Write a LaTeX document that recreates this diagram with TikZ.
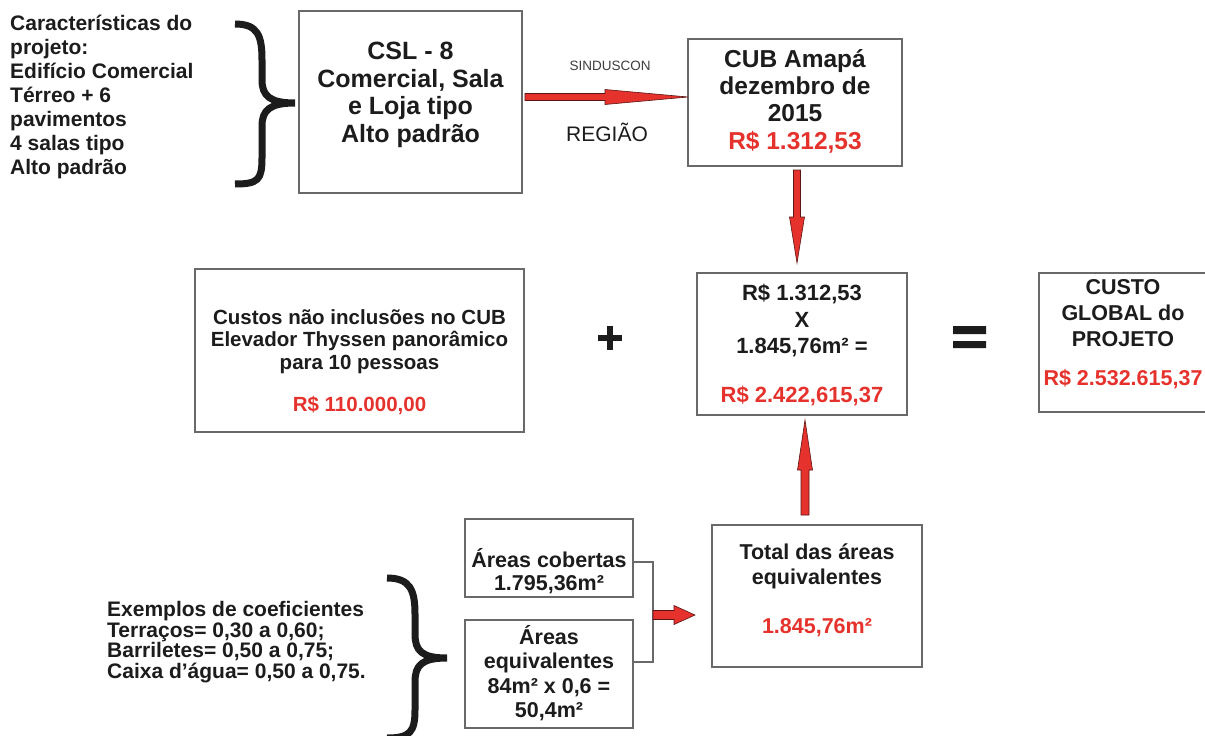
\documentclass[tikz,border=0pt]{standalone}
\usepackage{fontspec}
\setmainfont{Liberation Sans}
\usetikzlibrary{calc}
\definecolor{myred}{RGB}{230,50,44}
\definecolor{boxgray}{RGB}{105,105,105}
\definecolor{ink}{RGB}{28,28,28}
\definecolor{arrowline}{RGB}{90,20,20}
\begin{document}
\begin{tikzpicture}[x=1pt,y=-1pt,
  box/.style={draw=boxgray, line width=1.3pt, inner sep=0pt, outer sep=0pt},
  txt/.style={inner sep=0pt, align=center, text=ink},
  bf/.style 2 args={font=\fontsize{#1}{#2}\selectfont\bfseries},
  blk/.style={fill=myred, draw=arrowline, line width=0.6pt, line join=miter},
  conn/.style={draw=boxgray, line width=1.1pt},
  brc/.style={draw=ink, line width=7pt, line cap=butt}]
\useasboundingbox (0,0) rectangle (1205,736);
\fill[white] (0,0) rectangle (1205,736);

% ---------- top row ----------
\node[txt, bf={21}{24}, align=left, anchor=west] (feat) at (10,97)
  {Características do\\projeto:\\Edifício Comercial\\Térreo + 6\\pavimentos\\4 salas tipo\\Alto padrão};
\draw[brc] (235,24) .. controls (258,24) and (262,36) .. (262,60) -- (262,80)
  .. controls (262,96) and (270,103) .. (295,103)
  .. controls (270,103) and (262,110) .. (262,126) -- (262,158)
  .. controls (262,180) and (258,184) .. (235,184);

\node[box, minimum width=223, minimum height=182] (csl) at (410.5,102) {};
\node[txt, bf={25}{27.5}] (csltxt) at (410.5,95) {CSL - 8\\Comercial, Sala\\e Loja tipo\\Alto padrão};

\node[box, minimum width=214, minimum height=127] (cub) at (795,102.5) {};
\node[txt, bf={24.5}{27.3}] (cubtxt) at (795,101) {CUB Amapá\\dezembro de\\2015\\\textcolor{myred}{R\$ 1.312,53}};

\node[txt, font=\fontsize{13.5}{15}\selectfont, text=ink!85] (sind) at (610,66) {SINDUSCON};
\node[txt, font=\fontsize{21}{23}\selectfont] (regiao) at (607,132) {REGIÃO};

\coordinate (a1) at ($(csl.east)+(3,-5)$);
\coordinate (b1) at ($(cub.west)+(0,-5.5)$);
\filldraw[blk] ($(a1)+(0,-3.5)$) -- ($(b1)+(-83,-3.5)$) -- ($(b1)+(-83,-7.5)$) -- (b1)
  -- ($(b1)+(-83,7.5)$) -- ($(b1)+(-83,3.5)$) -- ($(a1)+(0,3.5)$) -- cycle;

% ---------- middle row ----------
\node[box, minimum width=329, minimum height=163] (elev) at (359.5,350.5) {};
\node[txt, bf={20.5}{22.5}] (elevtxt) at (359.5,362)
  {Custos não inclusões no CUB\\Elevador Thyssen panorâmico\\para 10 pessoas\\[20pt]\textcolor{myred}{R\$ 110.000,00}};

\draw[line width=6pt, ink] (598,338) -- (622,338) (610,326) -- (610,350);

\node[box, minimum width=210, minimum height=142] (mid) at (802,344) {};
\node[txt, bf={22}{26.5}] (midtxt) at (802,345)
  {R\$ 1.312,53\\X\\1.845,76m² =\\[22pt]\textcolor{myred}{R\$ 2.422,615,37}};

\fill[ink] (953,326) rectangle (986,334) (953,341) rectangle (986,348);

\node[box, minimum width=168, minimum height=139] (glob) at (1123,342.5) {};
\node[txt, bf={21.5}{26}] (globtxt) at (1123,334)
  {CUSTO\\GLOBAL do\\PROJETO\\[13pt]\textcolor{myred}{R\$ 2.532.615,37}};

\coordinate (a2) at ($(cub.south)+(2,4)$);
\coordinate (b2) at ($(mid.north)+(-5,-10)$);
\filldraw[blk] ($(a2)+(-3.5,0)$) -- ($(b2)+(-3.5,-46)$) -- ($(b2)+(-7.5,-46)$) -- (b2)
  -- ($(b2)+(7.5,-46)$) -- ($(b2)+(3.5,-46)$) -- ($(a2)+(3.5,0)$) -- cycle;

% ---------- bottom row ----------
\node[txt, bf={21}{20.5}, align=left, anchor=west] (coef) at (107,642)
  {Exemplos de coeficientes\\Terraços= 0,30 a 0,60;\\Barriletes= 0,50 a 0,75;\\Caixa d’água= 0,50 a 0,75.};
\draw[brc] (387,578) .. controls (410,578) and (415,590) .. (415,614) -- (415,634)
  .. controls (415,651) and (422,658) .. (447,658)
  .. controls (422,658) and (415,665) .. (415,682) -- (415,710)
  .. controls (415,732) and (410,738) .. (387,738);

\node[box, minimum width=168, minimum height=78] (cob) at (549,558) {};
\node[txt, bf={21.5}{23}] (cobtxt) at (549,571) {Áreas cobertas\\1.795,36m²};

\node[box, minimum width=168, minimum height=108] (eq) at (549,674) {};
\node[txt, bf={21.5}{24.5}] (eqtxt) at (549,673) {Áreas\\equivalentes\\84m² x 0,6 =\\50,4m²};

\node[box, minimum width=210, minimum height=142] (tot) at (817,596) {};
\node[txt, bf={21.5}{25}] (tottxt) at (817,590) {Total das áreas\\equivalentes\\[24pt]\textcolor{myred}{1.845,76m²}};

\draw[conn] ($(cob.east)+(0,4)$) -- ++(20,0) |- ($(eq.east)+(0,-12)$);

\coordinate (jn) at ($(cob.east)+(20,57)$);
\coordinate (b4) at ($(tot.west)+(-17,19)$);
\filldraw[blk] ($(jn)+(0,-4.5)$) -- ($(b4)+(-21,-4.5)$) -- ($(b4)+(-21,-9.5)$) -- (b4)
  -- ($(b4)+(-21,9.5)$) -- ($(b4)+(-21,4.5)$) -- ($(jn)+(0,4.5)$) -- cycle;

\coordinate (a3) at ($(tot.north)+(-12,-10)$);
\coordinate (b3) at ($(mid.south)+(3,5)$);
\filldraw[blk] ($(a3)+(-4,0)$) -- ($(b3)+(-4,50)$) -- ($(b3)+(-7.5,50)$) -- (b3)
  -- ($(b3)+(7.5,50)$) -- ($(b3)+(4,50)$) -- ($(a3)+(4,0)$) -- cycle;
\end{tikzpicture}
\end{document}
